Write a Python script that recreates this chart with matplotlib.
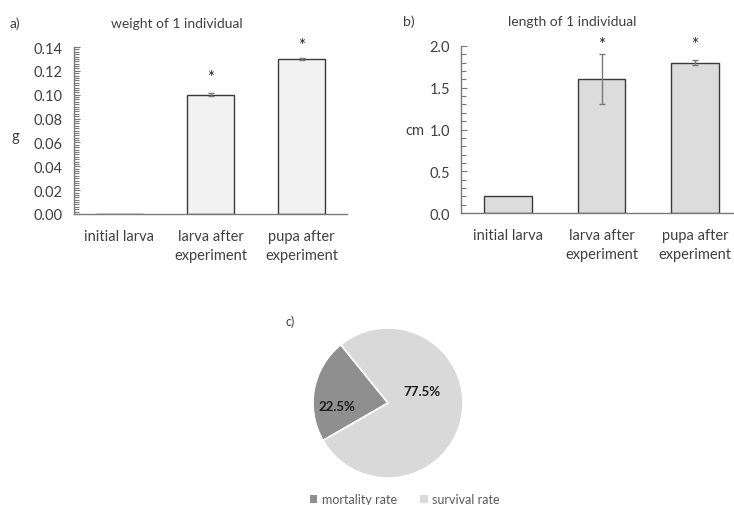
import matplotlib
matplotlib.use("Agg")
import matplotlib.pyplot as plt
import numpy as np
from matplotlib.ticker import MultipleLocator
from matplotlib.patches import Patch

plt.rcParams['font.family'] = ['Lato', 'DejaVu Sans']

categories = ["initial larva", "larva after\nexperiment", "pupa after\nexperiment"]

weight = [0.0003, 0.100, 0.130]
weight_err = [0.0, 0.0012, 0.0008]
weight_star = [None, 0.1145, 0.1415]

length = [0.2, 1.6, 1.8]
length_err = [0.0, 0.3, 0.03]
length_star = [None, 2.02, 2.02]

pie_labels = ["mortality rate", "survival rate"]
pie_values = [22.5, 77.5]

W, H = 734, 506
fig = plt.figure(figsize=(W / 100, H / 100), dpi=100)
fig.patch.set_facecolor("white")

text_col = "#404040"
spine_col = "#7a7a7a"


def px_axes(x0, y0, x1, y1):
    # pixel box (top-left origin) to figure fraction
    return fig.add_axes([x0 / W, 1 - y1 / H, (x1 - x0) / W, (y1 - y0) / H])


def bar_panel(ax, vals, errs, stars, color, ylim, major, minor, fmt, xlim):
    x = np.arange(len(vals))
    ax.bar(x, vals, width=0.51, color=color, edgecolor="#3a3a3a", linewidth=1.0, zorder=2)
    for xi, v, e in zip(x, vals, errs):
        if e > 0:
            ax.errorbar(xi, v, yerr=e, fmt="none", ecolor="#7a7a7a", elinewidth=1.0,
                        capsize=2.5, capthick=1.0, zorder=3)
    for xi, s in zip(x, stars):
        if s is not None:
            ax.text(xi, s, "*", ha="center", va="center", fontsize=12, color="#222222")
    ax.set_ylim(*ylim)
    ax.set_xlim(*xlim)
    ax.yaxis.set_major_locator(MultipleLocator(major))
    ax.yaxis.set_minor_locator(MultipleLocator(minor))
    ax.yaxis.set_major_formatter(fmt)
    ax.set_xticks(x)
    ax.set_xticklabels(categories, fontsize=10.5, color=text_col, linespacing=1.45)
    ax.tick_params(axis="x", length=0, pad=11)
    ax.tick_params(axis="y", which="major", direction="in", length=4, color=spine_col,
                   labelsize=10.5, labelcolor=text_col, pad=8)
    ax.tick_params(axis="y", which="minor", direction="in", length=3.5, width=0.8,
                   color=spine_col)
    for s in ["top", "right"]:
        ax.spines[s].set_visible(False)
    for s in ["left", "bottom"]:
        ax.spines[s].set_color(spine_col)
        ax.spines[s].set_linewidth(1.0)
    ax.set_facecolor("none")


# panel a
ax1 = px_axes(74, 48, 347, 215)
bar_panel(ax1, weight, weight_err, weight_star, "#f2f2f2", (0, 0.14), 0.02, 0.002,
          "{x:.2f}", (-0.5, 2.5))
fig.text(177 / W, 1 - 24 / H, "weight of 1 individual", ha="center", va="center",
         fontsize=10, color=text_col)
fig.text(10 / W, 1 - 24 / H, "a)", ha="left", va="center", fontsize=10, color=text_col)
fig.text(15 / W, 1 - 137 / H, "g", ha="center", va="center", fontsize=10.5, color=text_col)

# panel b
ax2 = px_axes(461, 47, 734, 214)
bar_panel(ax2, length, length_err, length_star, "#dcdcdc", (0, 2.0), 0.5, 0.1,
          "{x:.1f}", (-0.503, 2.417))
fig.text(572 / W, 1 - 22 / H, "length of 1 individual", ha="center", va="center",
         fontsize=10, color=text_col)
fig.text(403 / W, 1 - 22 / H, "b)", ha="left", va="center", fontsize=10, color=text_col)
fig.text(415 / W, 1 - 131 / H, "cm", ha="center", va="center", fontsize=10.5, color=text_col)

# panel c
ax3 = px_axes(313, 329, 463, 479)
wedges, _ = ax3.pie(pie_values, colors=["#8f8f8f", "#d9d9d9"], startangle=129,
                    counterclock=True, radius=1.0,
                    wedgeprops=dict(edgecolor="white", linewidth=1.2))
ax3.set_xlim(-1, 1)
ax3.set_ylim(-1, 1)
ax3.set_aspect("equal")
fig.text(337 / W, 1 - 407 / H, f"{pie_values[0]}%", ha="center", va="center",
         fontsize=9.5, fontweight="bold", color="#1a1a1a")
fig.text(422 / W, 1 - 392 / H, f"{pie_values[1]}%", ha="center", va="center",
         fontsize=9.5, fontweight="bold", color="#1a1a1a")
fig.text(285 / W, 1 - 322 / H, "c)", ha="left", va="center", fontsize=9, color=text_col)

handles = [Patch(facecolor=c, edgecolor="none") for c in ["#8f8f8f", "#d9d9d9"]]
fig.legend(handles, pie_labels, loc="center", bbox_to_anchor=(405 / W, 1 - 500 / H),
           ncol=2, frameon=False, fontsize=9, labelcolor="#595959",
           handlelength=0.6, handleheight=0.6, handletextpad=0.4, columnspacing=1.8)

fig.savefig("out.png", dpi=100)
